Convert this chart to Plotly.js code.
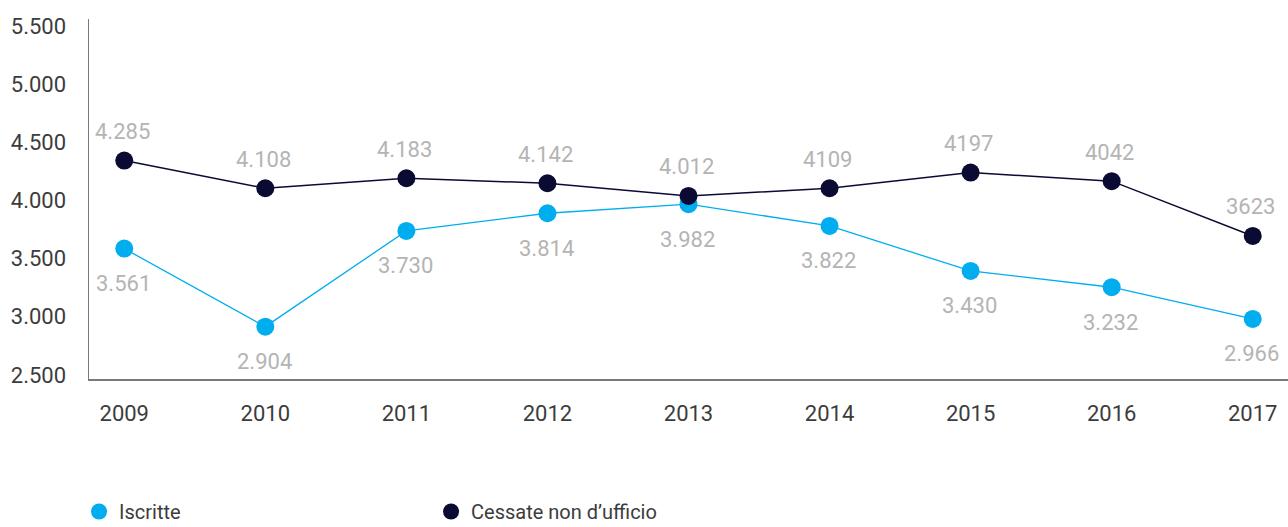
<!DOCTYPE html>
<html>
<head>
<meta charset="utf-8">
<script src="https://cdn.plot.ly/plotly-3.0.1.min.js"></script>
<style>html,body{margin:0;padding:0;background:#fff;}#chart{width:1288px;height:527px;}</style>
</head>
<body>
<div id="chart"></div>
<script>
const years = [2009, 2010, 2011, 2012, 2013, 2014, 2015, 2016, 2017];
const iscritteValues = [3586, 2915, 3738, 3890, 3968, 3781, 3394, 3254, 2981];
const iscritteLabels = ["3.561", "2.904", "3.730", "3.814", "3.982", "3.822", "3.430", "3.232", "2.966"];
const cessateValues = [4343, 4105, 4191, 4148, 4039, 4105, 4240, 4166, 3695];
const cessateLabels = ["4.285", "4.108", "4.183", "4.142", "4.012", "4109", "4197", "4042", "3623"];
const yTickValues = [2500, 3000, 3500, 4000, 4500, 5000, 5500];
const yTickLabels = ["2.500", "3.000", "3.500", "4.000", "4.500", "5.000", "5.500"];
const seriesNames = ["Iscritte", "Cessate non d\u2019ufficio"];

const FONT = 'Roboto, "Liberation Sans", sans-serif';
const LIGHT = '#00aeef';
const DARK = '#0a0a33';
const LABEL_GRAY = '#b4b4b4';
const TEXT = '#3c3c3c';

const traces = [
  {
    x: years, y: iscritteValues, name: seriesNames[0], type: 'scatter', mode: 'lines+markers',
    line: {color: LIGHT, width: 1.3}, marker: {color: LIGHT, size: 18},
    showlegend: false, hoverinfo: 'skip'
  },
  {
    x: years, y: cessateValues, name: seriesNames[1], type: 'scatter', mode: 'lines+markers',
    line: {color: DARK, width: 1.5}, marker: {color: DARK, size: 18},
    showlegend: false, hoverinfo: 'skip'
  },
  {
    x: [null], y: [null], name: seriesNames[0], type: 'scatter', mode: 'markers',
    marker: {color: LIGHT, size: 16}, showlegend: true, hoverinfo: 'skip'
  },
  {
    x: [null], y: [null], name: seriesNames[1], type: 'scatter', mode: 'markers',
    marker: {color: DARK, size: 16}, showlegend: true, hoverinfo: 'skip'
  }
];

const annotations = [];
years.forEach((yr, i) => {
  annotations.push({
    x: yr, y: cessateValues[i], xref: 'x', yref: 'y', text: cessateLabels[i],
    showarrow: false, xanchor: 'center', yanchor: 'middle', yshift: 29, xshift: -2,
    font: {family: FONT, size: 22, color: LABEL_GRAY}
  });
  annotations.push({
    x: yr, y: iscritteValues[i], xref: 'x', yref: 'y', text: iscritteLabels[i],
    showarrow: false, xanchor: 'center', yanchor: 'middle', yshift: -35, xshift: -1,
    font: {family: FONT, size: 22, color: LABEL_GRAY}
  });
});

const layout = {
  width: 1288, height: 527,
  margin: {l: 89, r: 0, t: 19, b: 148, pad: 0, autoexpand: false},
  paper_bgcolor: '#fff', plot_bgcolor: '#fff',
  font: {family: FONT, color: TEXT},
  showlegend: true,
  legend: {
    orientation: 'h', x: -0.0083, xanchor: 'left', y: -0.368, yanchor: 'middle',
    font: {family: FONT, size: 20, color: TEXT},
    entrywidth: 307, entrywidthmode: 'pixels', itemclick: false, traceorder: 'normal'
  },
  xaxis: {
    range: [2008.75, 2017.25], tickvals: years, ticktext: years.map(String),
    showgrid: false, zeroline: false, showline: true, linecolor: '#7a7a7a', linewidth: 1.5,
    ticks: '', ticklabelstandoff: 14,
    tickfont: {family: FONT, size: 22, color: TEXT}
  },
  yaxis: {
    range: [2465, 5560], tickvals: yTickValues, ticktext: yTickLabels,
    showgrid: false, zeroline: false, showline: true, linecolor: '#7a7a7a', linewidth: 1.5,
    ticks: '', ticklabelstandoff: 17,
    tickfont: {family: FONT, size: 22, color: TEXT}
  },
  annotations: annotations
};

Plotly.newPlot('chart', traces, layout, {displayModeBar: false, staticPlot: true});
</script>
</body>
</html>
